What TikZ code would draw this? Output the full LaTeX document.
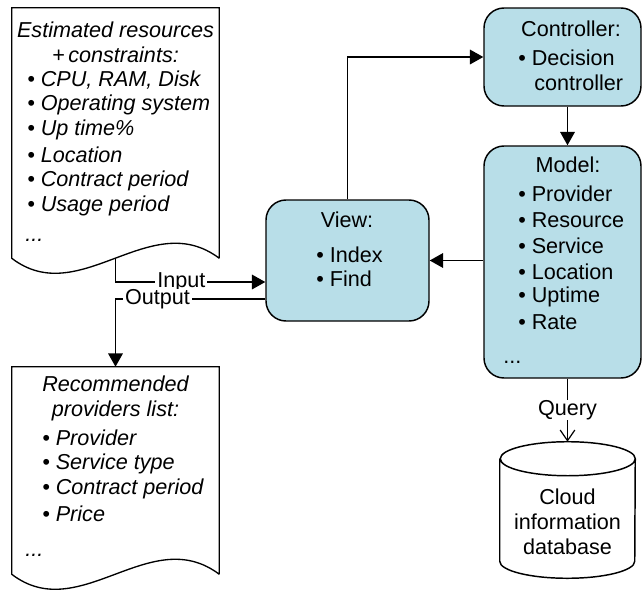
\documentclass[tikz,border=0pt]{standalone}
\usepackage{fontspec}
\setmainfont{Liberation Sans}
\usetikzlibrary{arrows.meta}
\definecolor{mvcblue}{HTML}{B8DEE8}
\newcommand\mainsize{\fontsize{16.2}{18.75}\selectfont}

\begin{document}
\begin{tikzpicture}[x=0.75pt, y=-0.75pt, font=\mainsize,
  mvc/.style={draw, line width=1.1pt, fill=mvcblue, rounded corners=15pt},
  doc/.style={minimum width=155.25pt, inner sep=0pt},
  doctxt/.style={font=\mainsize\itshape, inner sep=0pt},
  txt/.style={inner sep=0pt, anchor=west},
  link/.style={line width=0.9pt, -{Triangle[length=10pt,width=11pt]}},
  lbl/.style={fill=white, inner xsep=1.5pt, inner ysep=0pt}]
  \useasboundingbox (0,0) rectangle (642,589);

  % documents
  \node[doc, minimum height=187.5pt] (req) at (115.5,133) {};
  \draw[line width=1pt] (req.south east) -- (req.north east) -- (req.north west) -- (req.south west)
    .. controls +(68,52) and +(-69,-52) .. (req.south east);
  \node[doctxt, align=center] at (115.5,42.5) {Estimated resources\\+\,constraints:};
  \foreach \y/\t in {80/{CPU, RAM, Disk}, 105/{Operating system}, 130/{Up time\%},
      155/{Location}, 181/{Contract period}, 206/{Usage period}}
    \node[doctxt, anchor=west] at (27,\y) {• \t};
  \node[doctxt, anchor=west] at (25,240) {...};

  \node[doc, minimum height=155.25pt] (recom) at (115.5,470.5) {};
  \draw[line width=1pt] (recom.south east) -- (recom.north east) -- (recom.north west) -- (recom.south west)
    .. controls +(68,52) and +(-69,-52) .. (recom.south east);
  \node[doctxt, align=center] at (115.5,398.5) {Recommended\\providers list:};
  \foreach \y/\t in {438/{Provider}, 464/{Service type}, 489/{Contract period}, 514/{Price}}
    \node[doctxt, anchor=west] at (42,\y) {• \t};
  \node[doctxt, anchor=west] at (25,555) {...};

  % MVC boxes
  \node[mvc, minimum width=122.25pt, minimum height=90.75pt] (view) at (347.5,260.5) {};
  \node at (347,220) {View:};
  \node[txt] at (316,255) {• Index};
  \node[txt] at (316,279) {• Find};

  \node[mvc, minimum width=117.75pt, minimum height=73.5pt] (ctrl) at (562.5,57) {};
  \node at (571,29) {Controller:};
  \node[txt] at (518,58) {• Decision};
  \node[txt] at (534,83) {controller};

  \node[mvc, minimum width=117.75pt, minimum height=174pt] (model) at (562.5,262) {};
  \node at (568,165) {Model:};
  \foreach \y/\t in {194/Provider, 220/Resource, 246/Service, 272/Location, 297/Uptime, 322/Rate}
    \node[txt] at (518,\y) {• \t};
  \node[txt] at (503,362) {...};

  % database
  \node[minimum width=101.25pt, minimum height=102pt, inner sep=0pt] (db) at (567.5,510) {};
  \draw[line width=1.1pt] ([yshift=-12.75pt]db.north west) -- ([yshift=12.75pt]db.south west)
    arc[start angle=180, end angle=360, x radius=50.625pt, y radius=12.75pt]
    -- ([yshift=-12.75pt]db.north east)
    arc[start angle=0, end angle=180, x radius=50.625pt, y radius=12.75pt]
    arc[start angle=180, end angle=360, x radius=50.625pt, y radius=12.75pt];
  \node[align=center] at (567.5,522) {Cloud\\information\\database};

  % connectors
  \draw[link] (req.south) |- (view.west |- 0,282) node[lbl, pos=0.72] {Input};
  \draw[link] (view.west |- 0,299) -| (recom.north) node[lbl, pos=0.36] {Output};
  \draw[link] (view.north) |- (ctrl.west);
  \draw[link] (ctrl.south -| db) -- (model.north -| db);
  \draw[link] (model.west |- view.east) -- (view.east);
  \draw[line width=0.9pt, -{Straight Barb[length=8pt,width=11pt]}] (model.south -| db) -- (db.north)
    node[lbl, pos=0.5] {Query};
\end{tikzpicture}
\end{document}
